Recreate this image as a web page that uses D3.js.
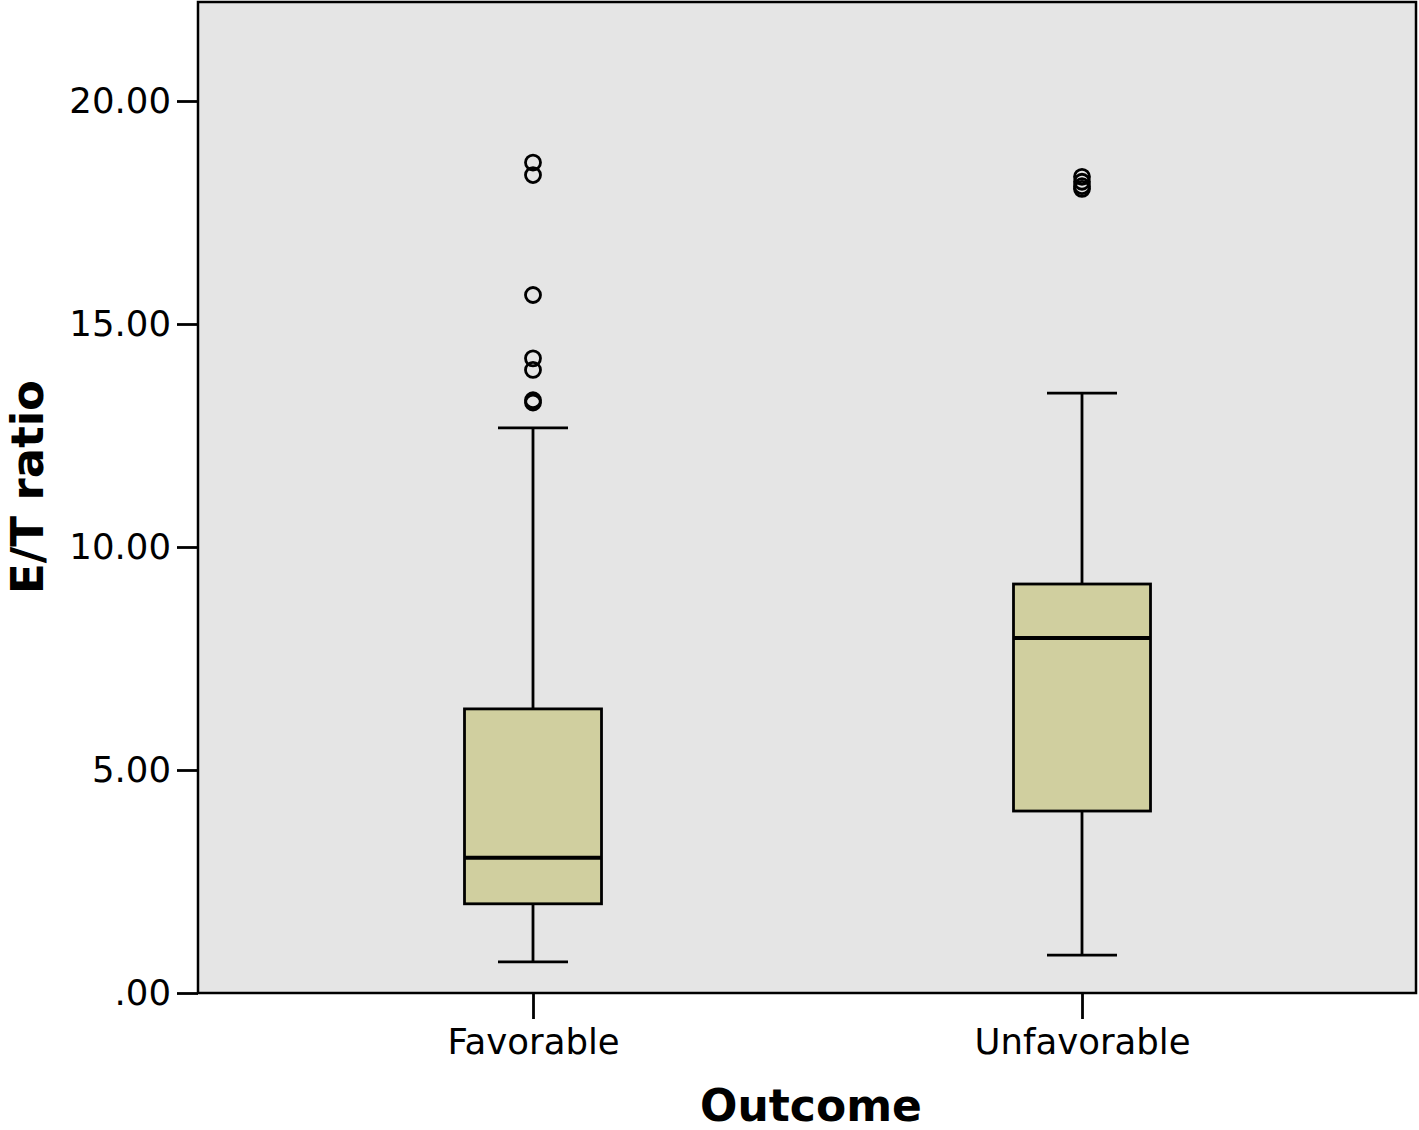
<!DOCTYPE html>
<html><head><meta charset="utf-8">
<script src="https://cdn.jsdelivr.net/npm/d3@7"></script>
<style>body{margin:0;background:#fff}svg{display:block}</style>
</head><body>
<script>
const categories = ["Favorable", "Unfavorable"];
const whiskerLow = [0.70, 0.85];
const q1 = [2.00, 4.08];
const medians = [3.03, 7.96];
const q3 = [6.37, 9.17];
const whiskerHigh = [12.67, 13.45];
const outliers = [
  [18.62, 18.34, 15.65, 14.23, 13.97, 13.29, 13.24],
  [18.30, 18.19, 18.09, 18.03]
];
const yTicks = [0, 5, 10, 15, 20];
const yTickLabels = [".00", "5.00", "10.00", "15.00", "20.00"];

const W = 1419, H = 1130;
const m = {left: 198, right: 1416, top: 2, bottom: 993};
const svg = d3.select("body").append("svg").attr("width", W).attr("height", H);
const font = "'DejaVu Sans', sans-serif";

const y = d3.scaleLinear().domain([0, 20]).range([993, 101]);
const x = d3.scalePoint().domain(categories).range([533, 1082]);

svg.append("rect").attr("x", m.left).attr("y", m.top).attr("width", m.right - m.left).attr("height", m.bottom - m.top)
  .attr("fill", "#e5e5e5").attr("stroke", "#000").attr("stroke-width", 2.5);

const boxW = 137, capW = 70;
const g = svg.append("g");
categories.forEach((c, i) => {
  const cx = x(c);
  g.append("line").attr("x1", cx).attr("x2", cx).attr("y1", y(whiskerLow[i])).attr("y2", y(q1[i])).attr("stroke", "#000").attr("stroke-width", 2.8);
  g.append("line").attr("x1", cx).attr("x2", cx).attr("y1", y(q3[i])).attr("y2", y(whiskerHigh[i])).attr("stroke", "#000").attr("stroke-width", 2.8);
  [whiskerLow[i], whiskerHigh[i]].forEach(v => {
    g.append("line").attr("x1", cx - capW / 2).attr("x2", cx + capW / 2).attr("y1", y(v)).attr("y2", y(v)).attr("stroke", "#000").attr("stroke-width", 2.8);
  });
  g.append("rect").attr("x", cx - boxW / 2).attr("y", y(q3[i])).attr("width", boxW).attr("height", y(q1[i]) - y(q3[i]))
    .attr("fill", "#d0cf9f").attr("stroke", "#000").attr("stroke-width", 2.8);
  g.append("line").attr("x1", cx - boxW / 2).attr("x2", cx + boxW / 2).attr("y1", y(medians[i])).attr("y2", y(medians[i])).attr("stroke", "#000").attr("stroke-width", 4);
  outliers[i].forEach(v => {
    g.append("circle").attr("cx", cx).attr("cy", y(v)).attr("r", 7.5).attr("fill", "none").attr("stroke", "#000").attr("stroke-width", 2.8);
  });
});

// y axis
const ya = svg.append("g").attr("transform", `translate(${m.left},0)`)
  .call(d3.axisLeft(y).tickValues(yTicks).tickSize(21).tickPadding(6).tickFormat((d, i) => yTickLabels[i]));
ya.select(".domain").remove();
ya.selectAll(".tick line").attr("stroke", "#000").attr("stroke-width", 2.8);
ya.selectAll(".tick text").attr("font-family", font).attr("font-size", 35.5).attr("fill", "#000");

// x axis
const xa = svg.append("g").attr("transform", `translate(0,${m.bottom})`)
  .call(d3.axisBottom(x).tickSize(26).tickPadding(10));
xa.select(".domain").remove();
xa.selectAll(".tick line").attr("stroke", "#000").attr("stroke-width", 2.8);
xa.selectAll(".tick text").attr("font-family", font).attr("font-size", 35.5).attr("fill", "#000");

svg.append("text").attr("x", 811).attr("y", 1121).attr("text-anchor", "middle")
  .attr("font-family", font).attr("font-weight", "bold").attr("font-size", 44).text("Outcome");
svg.append("text").attr("transform", "translate(43,487) rotate(-90)").attr("text-anchor", "middle")
  .attr("font-family", font).attr("font-weight", "bold").attr("font-size", 45).text("E/T ratio");
</script>
</body></html>
